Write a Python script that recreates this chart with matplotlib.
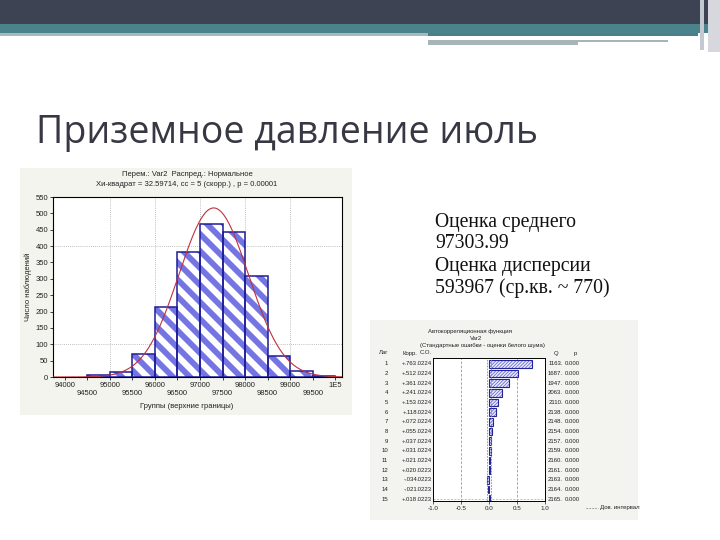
import numpy as np
import matplotlib
matplotlib.use('Agg')
import matplotlib.pyplot as plt
from matplotlib.patches import Rectangle
from matplotlib.collections import LineCollection
from matplotlib import transforms

# ---------------- data ----------------
bin_edges = [94500, 95000, 95500, 96000, 96500, 97000, 97500, 98000, 98500, 99000, 99500, 100000]
counts = [5, 15, 70, 215, 383, 469, 442, 310, 65, 19, 3]
mean_est = 97303.99
var_est = 593967
sd_text = 770

xtick_values = [94000, 94500, 95000, 95500, 96000, 96500, 97000, 97500, 98000, 98500, 99000, 99500, 100000]
xtick_labels = ['94000', '94500', '95000', '95500', '96000', '96500', '97000',
                '97500', '98000', '98500', '99000', '99500', '1E5']
ytick_values = [0, 50, 100, 150, 200, 250, 300, 350, 400, 450, 500, 550]
grid_x = [95000, 96000, 97000, 98000, 99000]
grid_y = [100, 400]

acf_lags = list(range(1, 16))
acf_corr = [0.763, 0.512, 0.361, 0.241, 0.153, 0.118, 0.072, 0.055, 0.037, 0.031, 0.021, 0.020, -0.034, -0.021, 0.018]
acf_se = [0.0224, 0.0224, 0.0224, 0.0224, 0.0224, 0.0224, 0.0224, 0.0224,
          0.0224, 0.0224, 0.0224, 0.0223, 0.0223, 0.0223, 0.0223]
acf_q = [1163., 1687., 1947., 2063., 2110., 2138., 2148., 2154., 2157., 2159., 2160., 2161., 2163., 2164., 2165.]
acf_p = [0.000] * 15
acf_xticks = [-1.0, -0.5, 0.0, 0.5, 1.0]
conf_limit = 0.044

title = 'Приземное давление июль'
info_lines = ['Оценка среднего', '97303.99', 'Оценка дисперсии', '593967 (ср.кв. ~ 770)']
hist_title = ['Перем.: Var2  Распред.: Нормальное',
              'Хи-квадрат = 32.59714, сс = 5 (скорр.) , p = 0.00001']
acf_title = ['Автокорреляционная функция', 'Var2',
             '(Стандартные ошибки - оценки белого шума)']

# ---------------- figure ----------------
W, H = 720, 540
fig = plt.figure(figsize=(7.2, 5.4), dpi=100)
fig.patch.set_facecolor('white')

bg = fig.add_axes([0, 0, 1, 1], zorder=0)
bg.set_xlim(0, W)
bg.set_ylim(H, 0)
bg.axis('off')

# slide header decoration
bg.add_patch(Rectangle((0, 0), W, 24, color='#3d4353', lw=0))
bg.add_patch(Rectangle((0, 24), W, 9, color='#4a838c', lw=0))
bg.add_patch(Rectangle((0, 33), 428, 3, color='#a8b8bb', lw=0))
bg.add_patch(Rectangle((428, 33), 270, 3, color='#4f7f86', lw=0))
bg.add_patch(Rectangle((428, 40), 240, 2, color='#a6b6b6', lw=0))
bg.add_patch(Rectangle((428, 42), 150, 3, color='#a6b6b6', lw=0))
bg.add_patch(Rectangle((700, 0), 4, 50, color='#c4c8d0', lw=0))
bg.add_patch(Rectangle((708, 0), 12, 52, color='#d6d8de', lw=0))

# title
bg.text(36, 133, title, fontsize=27, color='#383844', family='Open Sans',
        va='center', ha='left')

# info text
for i, line in enumerate(info_lines):
    bg.text(435, 222 + i * 22, line, fontsize=14.2, color='#111111',
            family='Liberation Serif', va='center', ha='left')

# panels
bg.add_patch(Rectangle((20, 168), 332, 247, color='#f4f4ef', lw=0))
bg.add_patch(Rectangle((370, 320), 268, 200, color='#f3f3ef', lw=0))

small = dict(family='Liberation Sans', color='#222222')

# ---------------- histogram ----------------
ax = fig.add_axes([53 / W, 1 - 377 / H, 289 / W, 180 / H], zorder=2)
ax.set_facecolor('white')
ax.set_xlim(93740, 100150)
ax.set_ylim(0, 550)
for gx in grid_x:
    ax.axvline(gx, color='#aaaaaa', lw=0.6, ls=(0, (1, 1.5)), zorder=0)
for gy in grid_y:
    ax.axhline(gy, color='#aaaaaa', lw=0.6, ls=(0, (1, 1.5)), zorder=0)

lefts = bin_edges[:-1]
fill_bars = ax.bar(lefts, counts, width=500, align='edge', facecolor='white',
                   edgecolor='none', linewidth=0, zorder=2)

# diagonal stripe fill (decorative), in slide pixel space, clipped to each bar
offsets = np.arange(-170, 345, 17.0)
segs = [[(0, b), (720, 720 + b)] for b in offsets]
for rect in fill_bars:
    lc = LineCollection(segs, colors='#7474e2', linewidths=4.2,
                        transform=bg.transData, zorder=2.5)
    ax.add_collection(lc, autolim=False)
    lc.set_clip_path(rect.get_path(), rect.get_transform())

ax.bar(lefts, counts, width=500, align='edge', facecolor='none',
       edgecolor='#1c1c96', linewidth=1.1, zorder=3)

sd = np.sqrt(var_est)
n_total = sum(counts)
xs = np.linspace(93740, 100150, 500)
ys = n_total * 500 / (sd * np.sqrt(2 * np.pi)) * np.exp(-0.5 * ((xs - mean_est) / sd) ** 2)
ax.plot(xs, ys, color='#c0303c', lw=0.8, zorder=4)

ax.set_xticks(xtick_values)
ax.set_xticklabels([lab if i % 2 == 0 else '\n' + lab for i, lab in enumerate(xtick_labels)],
                   fontsize=5.5, linespacing=1.25, **small)
ax.set_yticks(ytick_values)
ax.set_yticklabels([str(v) for v in ytick_values], fontsize=5.5, **small)
ax.tick_params(length=2, width=0.6, pad=1.5, colors='#222222')
for s in ax.spines.values():
    s.set_color('black')
    s.set_linewidth(0.8)

bg.text(187, 175, hist_title[0], fontsize=5.5, ha='center', va='center', **small)
bg.text(187, 185, hist_title[1], fontsize=5.5, ha='center', va='center', **small)
bg.text(187, 406, 'Группы (верхние границы)', fontsize=5.5, ha='center', va='center', **small)
bg.text(28, 287, 'Число наблюдений', fontsize=5.5, ha='center', va='center',
        rotation=90, **small)

# ---------------- ACF ----------------
plt.rcParams['hatch.linewidth'] = 0.6
ax2 = fig.add_axes([433 / W, 1 - 501 / H, 112 / W, 143 / H], zorder=2)
ax2.set_facecolor('white')
ax2.set_xlim(-1, 1)
ax2.set_ylim(15.2, 0.4)
for gx in [-0.5, 0.5]:
    ax2.axvline(gx, color='#999999', lw=0.6, ls=(0, (3, 2)), zorder=0)
ax2.axhline(15, color='#aaaaaa', lw=0.5, ls=(0, (3, 2)), zorder=0)
ax2.barh(acf_lags, acf_corr, height=0.8, facecolor='#ececfb', edgecolor='#6a6ad4',
         linewidth=0, hatch='/' * 10, zorder=2)
ax2.barh(acf_lags, acf_corr, height=0.8, facecolor='none', edgecolor='#24249a',
         linewidth=0.8, zorder=3)
for c in [-conf_limit, conf_limit]:
    ax2.axvline(c, color='#c060c0', lw=0.6, ls=(0, (2, 1.5)), zorder=4)
ax2.set_xticks(acf_xticks)
ax2.set_xticklabels(['%.1f' % v for v in acf_xticks], fontsize=4.5, **small)
ax2.set_yticks([])
ax2.tick_params(length=2, width=0.5, pad=1.5, colors='#222222')
for s in ax2.spines.values():
    s.set_color('black')
    s.set_linewidth(0.7)

tr = transforms.blended_transform_factory(bg.transData, ax2.transData)
tsz = 4.3
for lag, r, se, q, p in zip(acf_lags, acf_corr, acf_se, acf_q, acf_p):
    bg.text(388, lag, str(lag), transform=tr, fontsize=tsz, ha='right', va='center', **small)
    sign = '+' if r >= 0 else '-'
    bg.text(417, lag, sign + ('%.3f' % abs(r))[1:], transform=tr, fontsize=tsz,
            ha='right', va='center', **small)
    bg.text(432, lag, ('%.4f' % se)[1:], transform=tr, fontsize=tsz, ha='right',
            va='center', **small)
    bg.text(563, lag, '%d.' % q, transform=tr, fontsize=tsz, ha='right', va='center', **small)
    bg.text(580, lag, '%.3f' % p, transform=tr, fontsize=tsz, ha='right', va='center', **small)

bg.text(388, 353, 'Лаг', fontsize=tsz, ha='right', va='center', **small)
bg.text(417, 353, 'Корр.', fontsize=tsz, ha='right', va='center', **small)
bg.text(432, 353, 'С.О.', fontsize=tsz, ha='right', va='center', **small)
bg.text(556, 353, 'Q', fontsize=tsz, ha='center', va='center', **small)
bg.text(575, 353, 'p', fontsize=tsz, ha='center', va='center', **small)

bg.text(470, 331, acf_title[0], fontsize=tsz, ha='center', va='center', **small)
bg.text(476, 338, acf_title[1], fontsize=tsz, ha='center', va='center', **small)
bg.text(482, 345, acf_title[2], fontsize=tsz, ha='center', va='center', **small)

bg.plot([586, 598], [508, 508], color='#888888', lw=0.6, ls=(0, (2, 1.5)))
bg.text(600, 508, 'Дов. интервал', fontsize=tsz, ha='left', va='center', **small)

fig.savefig('out.png', dpi=100)
